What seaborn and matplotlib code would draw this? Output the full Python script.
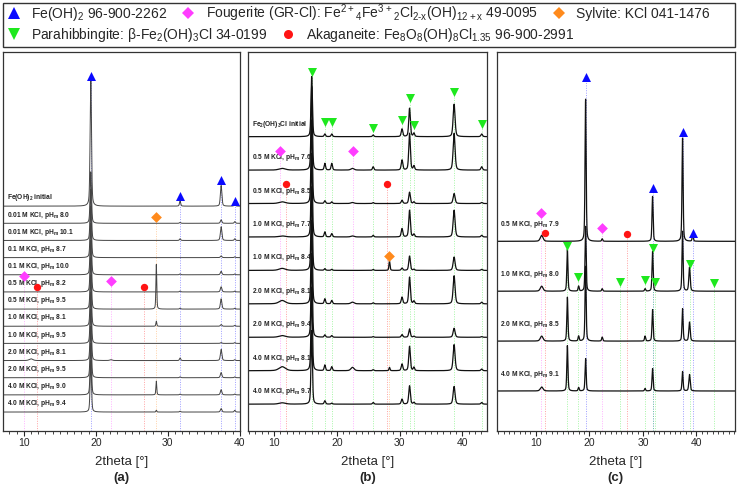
import numpy as np
import pandas as pd
import matplotlib
matplotlib.use("Agg")
import matplotlib.pyplot as plt
from matplotlib.lines import Line2D
from matplotlib.patches import Rectangle
from matplotlib.ticker import MultipleLocator
import seaborn as sns

sns.set_theme(style="ticks")
plt.rcParams["font.family"] = ["Liberation Sans", "DejaVu Sans"]
plt.rcParams["mathtext.default"] = "regular"

# ---- phases: marker, colour, legend text
phase_marker = {"feoh2": "^", "foug": "D", "sylv": "D", "para": "v", "akag": "o"}
phase_color = {"feoh2": "#0a0aff", "foug": "#ff3dff", "sylv": "#ff8a1c",
               "para": "#1ee81e", "akag": "#ff1414"}
phase_size = {"feoh2": 42, "foug": 30, "sylv": 30, "para": 42, "akag": 28}
legend_row1 = [("feoh2", "Fe(OH)$_2$ 96-900-2262"),
               ("foug", "Fougerite (GR-Cl): Fe$^{2+}$$_4$Fe$^{3+}$$_2$Cl$_{2\u2010x}$(OH)$_{12+x}$ 49-0095"),
               ("sylv", "Sylvite: KCl 041-1476")]
legend_row2 = [("para", "Parahibbingite: β-Fe$_2$(OH)$_3$Cl 34-0199"),
               ("akag", "Akaganeite: Fe$_8$O$_8$(OH)$_8$Cl$_{1.35}$ 96-900-2991")]

# ---- panel (a): Fe(OH)2 experiments (traces listed top to bottom)
a_labels = ["Fe(OH)$_2$ initial",
            "0.01 M KCl, pH$_m$ 8.0", "0.01 M KCl, pH$_m$ 10.1",
            "0.1 M KCl, pH$_m$ 8.7", "0.1 M KCl, pH$_m$ 10.0",
            "0.5 M KCl, pH$_m$ 8.2", "0.5 M KCl, pH$_m$ 9.5",
            "1.0 M KCl, pH$_m$ 8.1", "1.0 M KCl, pH$_m$ 9.5",
            "2.0 M KCl, pH$_m$ 8.1", "2.0 M KCl, pH$_m$ 9.5",
            "4.0 M KCl, pH$_m$ 9.0", "4.0 M KCl, pH$_m$ 9.4"]
a_pos = [11.0, 19.3, 22.1, 28.4, 31.7, 37.4, 39.3]
a_width = [0.3, 0.11, 0.2, 0.07, 0.1, 0.12, 0.1]
a_height = [
    [0.0, 7.5, 0.0, 0.0, 0.3, 1.2, 0.15],
    [0.0, 3.0, 0.0, 0.0, 0.05, 0.2, 0.1],
    [0.0, 3.0, 0.0, 0.0, 0.1, 0.8, 0.1],
    [0.0, 3.0, 0.0, 0.0, 0.0, 0.1, 0.05],
    [0.0, 3.0, 0.0, 0.0, 0.05, 0.2, 0.05],
    [0.0, 3.0, 0.0, 0.0, 0.05, 0.3, 0.05],
    [0.0, 3.0, 0.0, 2.6, 0.05, 0.6, 0.05],
    [0.0, 3.0, 0.0, 0.3, 0.0, 0.1, 0.05],
    [0.0, 3.0, 0.0, 0.0, 0.0, 0.05, 0.05],
    [0.1, 3.0, 0.05, 0.0, 0.15, 0.65, 0.05],
    [0.0, 3.0, 0.0, 0.0, 0.05, 0.3, 0.05],
    [0.0, 3.0, 0.0, 0.8, 0.05, 0.3, 0.05],
    [0.0, 3.0, 0.0, 0.1, 0.05, 0.2, 0.1],
]
a_mark_x = [19.3, 31.7, 37.4, 39.3, 28.4, 10.0, 22.1, 11.8, 26.7]
a_mark_y = [19.6, 12.6, 13.5, 12.3, 11.35, 7.9, 7.65, 7.3, 7.3]
a_mark_phase = ["feoh2", "feoh2", "feoh2", "feoh2", "sylv", "foug", "foug", "akag", "akag"]

# ---- panel (b): Fe2(OH)3Cl experiments
b_labels = ["Fe$_2$(OH)$_3$Cl initial",
            "0.5 M KCl, pH$_m$ 7.6", "0.5 M KCl, pH$_m$ 8.5",
            "1.0 M KCl, pH$_m$ 7.7", "1.0 M KCl, pH$_m$ 8.4",
            "2.0 M KCl, pH$_m$ 8.1", "2.0 M KCl, pH$_m$ 9.4",
            "4.0 M KCl, pH$_m$ 8.1", "4.0 M KCl, pH$_m$ 9.7"]
b_pos = [11.3, 16.0, 18.1, 19.2, 22.5, 25.8, 28.4, 30.4, 31.6, 32.3, 38.7, 43.1]
b_width = [0.6, 0.13, 0.13, 0.13, 0.3, 0.13, 0.1, 0.15, 0.15, 0.13, 0.18, 0.15]
b_height = [
    [0.0, 1.8, 0.08, 0.08, 0.0, 0.05, 0.0, 0.23, 0.85, 0.1, 0.97, 0.08],
    [0.05, 2.5, 0.2, 0.2, 0.05, 0.1, 0.0, 0.3, 1.1, 0.12, 1.1, 0.1],
    [0.05, 2.5, 0.08, 0.05, 0.03, 0.03, 0.0, 0.1, 0.34, 0.05, 0.3, 0.03],
    [0.03, 2.5, 0.15, 0.1, 0.03, 0.05, 0.0, 0.25, 0.8, 0.08, 0.8, 0.05],
    [0.06, 2.5, 0.05, 0.03, 0.0, 0.03, 0.28, 0.07, 0.43, 0.03, 0.4, 0.03],
    [0.1, 2.5, 0.15, 0.1, 0.05, 0.03, 0.0, 0.2, 0.8, 0.08, 0.84, 0.05],
    [0.05, 2.5, 0.07, 0.05, 0.0, 0.02, 0.0, 0.08, 0.25, 0.03, 0.27, 0.02],
    [0.12, 2.5, 0.17, 0.12, 0.1, 0.03, 0.1, 0.2, 0.73, 0.1, 0.78, 0.05],
    [0.04, 2.2, 0.1, 0.03, 0.0, 0.05, 0.0, 0.15, 0.55, 0.05, 0.53, 0.05],
]
b_mark_x = [16.0, 18.1, 19.2, 25.8, 30.4, 31.6, 32.3, 38.7, 43.1,
            11.0, 22.6, 11.9, 28.0, 28.4]
b_mark_y = [9.94, 8.45, 8.45, 8.27, 8.5, 9.16, 8.36, 9.33, 8.38,
            7.58, 7.58, 6.58, 6.58, 4.43]
b_mark_phase = ["para"] * 9 + ["foug", "foug", "akag", "akag", "sylv"]

# ---- panel (c): mixed experiments
c_labels = ["0.5 M KCl, pH$_m$ 7.9", "1.0 M KCl, pH$_m$ 8.0",
            "2.0 M KCl, pH$_m$ 8.5", "4.0 M KCl, pH$_m$ 9.1"]
c_pos = [11.1, 15.9, 18.0, 19.3, 22.4, 30.4, 31.8, 37.4, 38.7, 39.3]
c_width = [0.3, 0.12, 0.12, 0.12, 0.12, 0.12, 0.12, 0.12, 0.15, 0.12]
c_height = [
    [0.12, 0.0, 0.0, 2.85, 0.05, 0.0, 0.9, 2.07, 0.0, 0.13],
    [0.1, 0.84, 0.1, 1.3, 0.05, 0.05, 0.8, 1.2, 0.48, 0.0],
    [0.1, 0.88, 0.1, 1.5, 0.08, 0.1, 0.63, 0.65, 0.38, 0.0],
    [0.08, 0.91, 0.07, 0.65, 0.0, 0.05, 0.45, 0.39, 0.33, 0.0],
]
c_mark_x = [19.3, 37.4, 31.8, 39.3, 11.0, 22.4, 11.8, 27.1,
            15.9, 17.9, 25.7, 30.4, 31.8, 32.3, 38.8, 43.2]
c_mark_y = [6.29, 5.19, 4.07, 3.17, 3.56, 3.27, 3.16, 3.15,
            2.91, 2.29, 2.19, 2.23, 2.87, 2.19, 2.55, 2.17]
c_mark_phase = ["feoh2"] * 4 + ["foug", "foug", "akag", "akag"] + ["para"] * 8


def profile(x, pos, width, height):
    y = np.zeros_like(x)
    for p, w, h in zip(pos, width, height):
        lor = 1.0 / (1.0 + ((x - p) / w) ** 2)
        gau = np.exp(-np.log(2) * ((x - p) / w) ** 2)
        y += h * (0.4 * lor + 0.6 * gau)
    return y


def draw_panel(ax, labels, pos, width, heights, mx, my, mph, xlim, ylim,
               tag, line_color, lw, lift):
    n = len(labels)
    x = np.linspace(xlim[0], xlim[1], 4000)
    frames = []
    for i, (lab, h) in enumerate(zip(labels, heights)):
        off = n - 1 - i
        frames.append(pd.DataFrame({"tt": x, "I": off + profile(x, pos, width, h),
                                    "sample": lab}))
    df = pd.concat(frames, ignore_index=True)

    # reference lines from the bottom up to each phase marker
    for xx, yy, ph in zip(mx, my, mph):
        ax.vlines(xx, ylim[0], yy, colors=phase_color[ph], linestyles=(0, (1, 1.5)),
                  lw=0.7, alpha=0.4, zorder=1)

    sns.lineplot(data=df, x="tt", y="I", units="sample", estimator=None, sort=False,
                 color=line_color, lw=lw, ax=ax, legend=False, zorder=2)

    for ph in phase_marker:
        sel = [k for k, p in enumerate(mph) if p == ph]
        if not sel:
            continue
        sns.scatterplot(x=[mx[k] for k in sel], y=[my[k] for k in sel], ax=ax,
                        marker=phase_marker[ph], color=phase_color[ph],
                        s=phase_size[ph], linewidth=0, zorder=4, legend=False)

    for i, lab in enumerate(labels):
        ax.annotate(lab, xy=(0.016, n - 1 - i), xycoords=("axes fraction", "data"),
                    xytext=(0, lift), textcoords="offset points", fontsize=4.8,
                    fontweight="bold", va="bottom", ha="left", color="#222222")

    ax.set_xlim(*xlim)
    ax.set_ylim(*ylim)
    ax.set_yticks([])
    ax.set_ylabel("")
    ax.set_xticks([10, 20, 30, 40])
    ax.xaxis.set_minor_locator(MultipleLocator(1))
    ax.tick_params(axis="x", which="major", direction="out", length=3.5, width=0.8,
                   labelsize=7.5, pad=1.5)
    ax.tick_params(axis="x", which="minor", direction="out", length=2, width=0.6)
    for sp in ax.spines.values():
        sp.set_visible(True)
        sp.set_linewidth(0.9)
        sp.set_color("#333333")
    ax.set_xlabel("2theta [°]", fontsize=9.5)
    ax.xaxis.set_label_coords(0.5, -0.066)
    ax.text(0.5, -0.125, tag, transform=ax.transAxes, ha="center", va="center",
            fontsize=9.5, fontweight="bold")


fig = plt.figure(figsize=(7.38, 4.88), dpi=100)
ax_a = fig.add_axes([0.004, 0.117, 0.321, 0.777])
ax_b = fig.add_axes([0.3365, 0.117, 0.323, 0.777])
ax_c = fig.add_axes([0.673, 0.117, 0.323, 0.777])

draw_panel(ax_a, a_labels, a_pos, a_width, a_height, a_mark_x, a_mark_y, a_mark_phase,
           (7.1, 40.0), (-1.1, 21.0), "(a)", "#444444", 0.7, 2)
draw_panel(ax_b, b_labels, b_pos, b_width, b_height, b_mark_x, b_mark_y, b_mark_phase,
           (5.9, 43.9), (-0.8, 10.54), "(b)", "#111111", 0.9, 5)
draw_panel(ax_c, c_labels, c_pos, c_width, c_height, c_mark_x, c_mark_y, c_mark_phase,
           (2.7, 47.2), (-0.8, 6.8), "(c)", "#111111", 0.9, 8)

# legend box with two rows
fig.patches.append(Rectangle((0.004, 0.9037), 0.992, 0.0902, transform=fig.transFigure,
                             fill=False, edgecolor="#333333", lw=1.0))


def handles(row):
    return [Line2D([], [], ls="none", marker=phase_marker[p], color=phase_color[p],
                   markersize=8 if phase_marker[p] in "^v" else 6.5,
                   markeredgewidth=0, label=t) for p, t in row]


fig.legend(handles=handles(legend_row1), loc="center left", bbox_to_anchor=(0.0095, 0.973),
           ncol=3, frameon=False, fontsize=10, handlelength=1.0, handletextpad=0.75,
           columnspacing=1.0, borderpad=0, borderaxespad=0)
fig.legend(handles=handles(legend_row2), loc="center left", bbox_to_anchor=(0.0095, 0.928),
           ncol=2, frameon=False, fontsize=10, handlelength=1.0, handletextpad=0.75,
           columnspacing=1.0, borderpad=0, borderaxespad=0)

fig.savefig("out.png", dpi=100)
